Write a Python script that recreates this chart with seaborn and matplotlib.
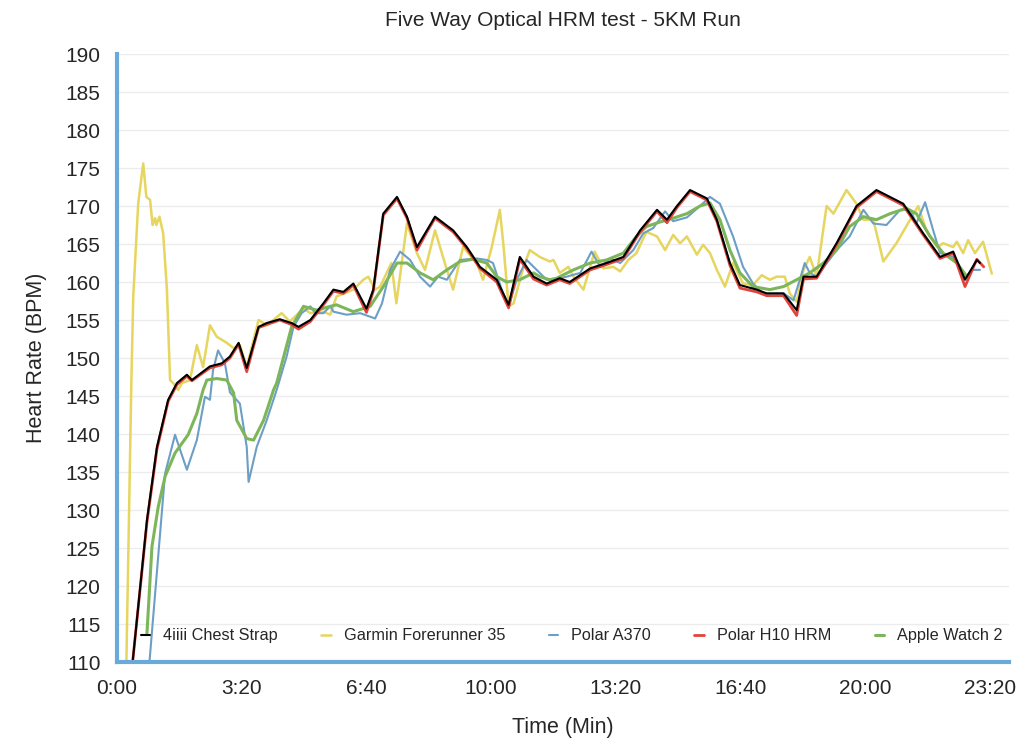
import numpy as np
import pandas as pd
import matplotlib
matplotlib.use("Agg")
from matplotlib import pyplot as plt
from matplotlib.ticker import FuncFormatter, MultipleLocator
import seaborn as sns

# heart rate readings: (time in seconds, bpm)
chest_strap = [(25, 110), (48, 128.7), (64, 138.3), (82, 144.5), (96, 146.7), (112, 147.8), (120, 147.1),
               (149, 148.9), (168, 149.3), (181, 150.2), (195, 152), (208, 148.7), (227, 154.1), (240, 154.6),
               (261, 155.1), (280, 154.6), (291, 154.1), (310, 155), (331, 157.2), (347, 159), (363, 158.7),
               (379, 159.8), (400, 156.5), (411, 159), (427, 169), (449, 171.2), (465, 168.6), (481, 164.6),
               (497, 166.8), (510, 168.6), (539, 166.8), (561, 164.6), (582, 162), (609, 160.3), (628, 157),
               (646, 163.3), (668, 160.7), (689, 159.8), (710, 160.5), (726, 160), (759, 161.8), (785, 162.5),
               (812, 163.3), (839, 166.8), (866, 169.5), (882, 168.2), (898, 170), (919, 172.1), (946, 171),
               (962, 168.2), (983, 162.5), (999, 159.6), (1026, 159), (1042, 158.5), (1069, 158.5), (1090, 156.3),
               (1101, 160.7), (1122, 160.7), (1154, 165.1), (1186, 170), (1218, 172.1), (1261, 170.3),
               (1293, 166.4), (1320, 163.3), (1341, 164), (1360, 160.3), (1379, 162.9), (1384, 162.5)]

polar_h10 = [(25, 110), (48, 128.4), (64, 138.0), (82, 144.3), (96, 146.5), (112, 147.6), (120, 147.0),
             (149, 148.7), (168, 149.1), (181, 150.0), (195, 151.8), (208, 148.2), (227, 154.0), (240, 154.4),
             (261, 155.0), (280, 154.4), (291, 153.8), (310, 154.8), (331, 157.0), (347, 158.8), (363, 158.5),
             (379, 159.6), (400, 156.0), (411, 158.8), (427, 168.8), (449, 171.0), (465, 168.4), (481, 164.2),
             (497, 166.6), (510, 168.4), (539, 166.6), (561, 164.4), (582, 161.8), (609, 160.0), (628, 156.6),
             (646, 163.0), (668, 160.4), (689, 159.6), (710, 160.3), (726, 159.8), (759, 161.6), (785, 162.3),
             (812, 163.1), (839, 166.6), (866, 169.3), (882, 167.8), (898, 169.8), (919, 171.9), (946, 170.8),
             (962, 168.0), (983, 162.2), (999, 159.2), (1026, 158.7), (1042, 158.2), (1069, 158.2), (1090, 155.6),
             (1101, 160.4), (1122, 160.5), (1154, 164.9), (1186, 169.8), (1218, 171.9), (1261, 170.1),
             (1293, 166.2), (1320, 163.1), (1341, 163.8), (1360, 159.4), (1379, 163.0), (1390, 162.0)]

garmin_fr35 = [(15, 110), (23, 147), (26, 158.1), (34, 170.4), (42, 175.6), (47, 171.2), (53, 170.8),
               (57, 167.5), (61, 168.4), (63, 167.5), (68, 168.6), (74, 166.4), (80, 159), (85, 147.1),
               (90, 146.7), (98, 145.8), (104, 146.7), (117, 147.1), (128, 151.7), (138, 148.8), (149, 154.3),
               (160, 152.8), (176, 152), (187, 151.3), (197, 151.7), (208, 148.8), (227, 155), (240, 154.3),
               (264, 155.9), (277, 154.8), (299, 156.5), (310, 155.9), (331, 156.1), (342, 155.7), (352, 158.1),
               (379, 159), (395, 160.3), (403, 160.7), (414, 159), (422, 159.4), (440, 162.5), (448, 157.2),
               (465, 167.7), (481, 163.8), (494, 161.6), (510, 166.8), (529, 161.6), (539, 159), (555, 164.6),
               (577, 162.5), (587, 160.3), (601, 164.6), (614, 169.5), (620, 164.6), (628, 156.8), (636, 157.2),
               (652, 162), (662, 164.2), (678, 163.3), (694, 162.7), (700, 162.9), (710, 161.2), (724, 162),
               (732, 160.7), (748, 159), (766, 164), (780, 161.8), (796, 162), (807, 161.4), (820, 162.9),
               (833, 163.8), (849, 166.6), (866, 166), (879, 164.2), (892, 166.2), (903, 165.1), (914, 166),
               (930, 163.6), (940, 164.9), (951, 163.8), (962, 161.6), (975, 159.4), (988, 162.5), (1004, 159.8),
               (1020, 159.6), (1034, 160.9), (1047, 160.3), (1058, 160.7), (1071, 160.7), (1079, 158.5),
               (1090, 157.4), (1101, 161.6), (1111, 163.3), (1122, 160.7), (1138, 170), (1149, 169),
               (1170, 172.1), (1186, 170.3), (1197, 168.2), (1213, 168.2), (1229, 162.7), (1250, 165.1),
               (1272, 168.2), (1285, 170), (1298, 166.8), (1315, 164.6), (1325, 165.1), (1341, 164.6),
               (1347, 165.3), (1357, 163.8), (1365, 165.5), (1376, 163.8), (1389, 165.3), (1403, 161.1)]

polar_a370 = [(52, 110), (77, 134.8), (88, 138.3), (93, 139.9), (112, 135.3), (128, 139.2), (141, 144.9),
              (149, 144.5), (154, 148.4), (162, 151), (173, 149.3), (181, 145.5), (197, 144), (208, 138.3),
              (211, 133.7), (224, 138.3), (240, 141.8), (256, 145.8), (272, 150.2), (283, 154.1), (296, 155.9),
              (310, 156.8), (318, 155.9), (331, 155.9), (342, 156.8), (347, 156.1), (368, 155.7), (390, 155.9),
              (414, 155.2), (425, 157.2), (438, 161.6), (454, 164), (470, 162.9), (486, 160.7), (502, 159.4),
              (515, 160.7), (529, 160.3), (550, 162.9), (577, 163.1), (593, 162.9), (603, 162.5), (617, 159),
              (628, 156.8), (641, 160.3), (657, 162.9), (673, 161.6), (689, 160.3), (700, 160.3), (721, 160.7),
              (743, 161.2), (761, 164), (775, 162), (791, 163.1), (807, 162.5), (828, 164.2), (844, 166.4),
              (860, 167.1), (879, 169.3), (892, 168), (914, 168.5), (935, 170), (951, 171.2), (967, 170.3),
              (988, 166), (1004, 162), (1020, 159.8), (1036, 158.5), (1047, 158.5), (1069, 158.5), (1085, 157.6),
              (1095, 160.3), (1103, 162.5), (1111, 161.2), (1122, 160.7), (1154, 164.2), (1175, 166),
              (1197, 169.5), (1213, 167.7), (1234, 167.5), (1256, 169.5), (1272, 169.5), (1282, 167.7),
              (1296, 170.5), (1309, 166.8), (1320, 163.8), (1341, 163.3), (1360, 160.7), (1373, 161.6),
              (1384, 161.6)]

apple_watch = [(48, 113.8), (56, 125.2), (66, 130.4), (77, 134.4), (93, 137.5), (114, 139.9), (128, 142.7),
               (138, 145.8), (144, 147.1), (160, 147.3), (176, 147.1), (187, 145.4), (192, 141.8), (208, 139.4),
               (219, 139.2), (235, 141.8), (251, 145.8), (256, 146.7), (280, 154.1), (299, 156.8), (320, 156.3),
               (342, 156.8), (352, 157), (379, 156.1), (406, 156.8), (427, 159.4), (449, 162.5), (465, 162.5),
               (486, 161.2), (507, 160.3), (529, 161.6), (550, 162.7), (571, 163), (593, 162.5), (609, 160.7),
               (625, 160), (646, 160.3), (668, 161.2), (678, 160.7), (694, 160.3), (705, 160.5), (732, 161.6),
               (759, 162.5), (785, 162.9), (812, 163.8), (833, 166), (849, 167.3), (871, 167.9), (892, 168.4),
               (914, 169), (935, 170), (951, 170.4), (967, 168.2), (983, 164.2), (999, 161.2), (1020, 159.4),
               (1047, 159), (1069, 159.4), (1090, 160.3), (1111, 161.2), (1133, 162.5), (1154, 164.2),
               (1175, 167.3), (1197, 168.6), (1218, 168.2), (1240, 169), (1266, 169.7), (1282, 169),
               (1304, 166), (1325, 163.8), (1347, 162.5), (1363, 160.7)]

x_ticks = [0, 200, 400, 600, 800, 1000, 1200, 1400]

# drawing order (black chest strap on top), colours, widths
series = [
    ("Garmin Forerunner 35", garmin_fr35, "#e6d55e", 1.8),
    ("Polar A370", polar_a370, "#6c9ec6", 1.5),
    ("Apple Watch 2", apple_watch, "#7db65a", 2.2),
    ("Polar H10 HRM", polar_h10, "#e0443a", 2.0),
    ("4iiii Chest Strap", chest_strap, "#000000", 1.5),
]
legend_order = ["4iiii Chest Strap", "Garmin Forerunner 35", "Polar A370", "Polar H10 HRM", "Apple Watch 2"]

sns.set_style("white")
plt.rcParams['font.family'] = ['Liberation Sans', 'DejaVu Sans']

fig = plt.figure(figsize=(10.24, 7.42), dpi=100)
ax = fig.add_axes([0.1143, 0.1078, 0.8707, 0.8194])

handles = {}
for name, pts, col, lw in series:
    df = pd.DataFrame(pts, columns=["t", "bpm"])
    sns.lineplot(data=df, x="t", y="bpm", ax=ax, color=col, linewidth=lw, sort=False, estimator=None)
    handles[name] = ax.lines[-1]

ax.set_xlim(0, 1430)
ax.set_ylim(110, 190)
ax.yaxis.set_major_locator(MultipleLocator(5))
ax.set_xticks(x_ticks)
ax.xaxis.set_major_formatter(FuncFormatter(lambda v, p: "%d:%02d" % (int(v) // 60, int(v) % 60)))
ax.grid(axis="y", color="#ececec", linewidth=1)
ax.grid(axis="x", visible=False)
ax.tick_params(axis="both", length=0, labelsize=15, pad=12)
for s in ["top", "right"]:
    ax.spines[s].set_visible(False)
for s in ["left", "bottom"]:
    ax.spines[s].set_color("#6aaad8")
    ax.spines[s].set_linewidth(3)

ax.set_title("Five Way Optical HRM test - 5KM Run", fontsize=15, pad=20)
ax.set_xlabel("Time (Min)", fontsize=15.5, labelpad=14)
ax.set_ylabel("Heart Rate (BPM)", fontsize=15.5, labelpad=13)

ax.legend([handles[n] for n in legend_order], legend_order, loc="center left",
          bbox_to_anchor=(0.01, 0.043, 1.0, 0.0), mode="expand", ncol=5, frameon=False,
          handlelength=0.6, handletextpad=0.8, fontsize=11.7)

fig.savefig("out.png", dpi=100)
